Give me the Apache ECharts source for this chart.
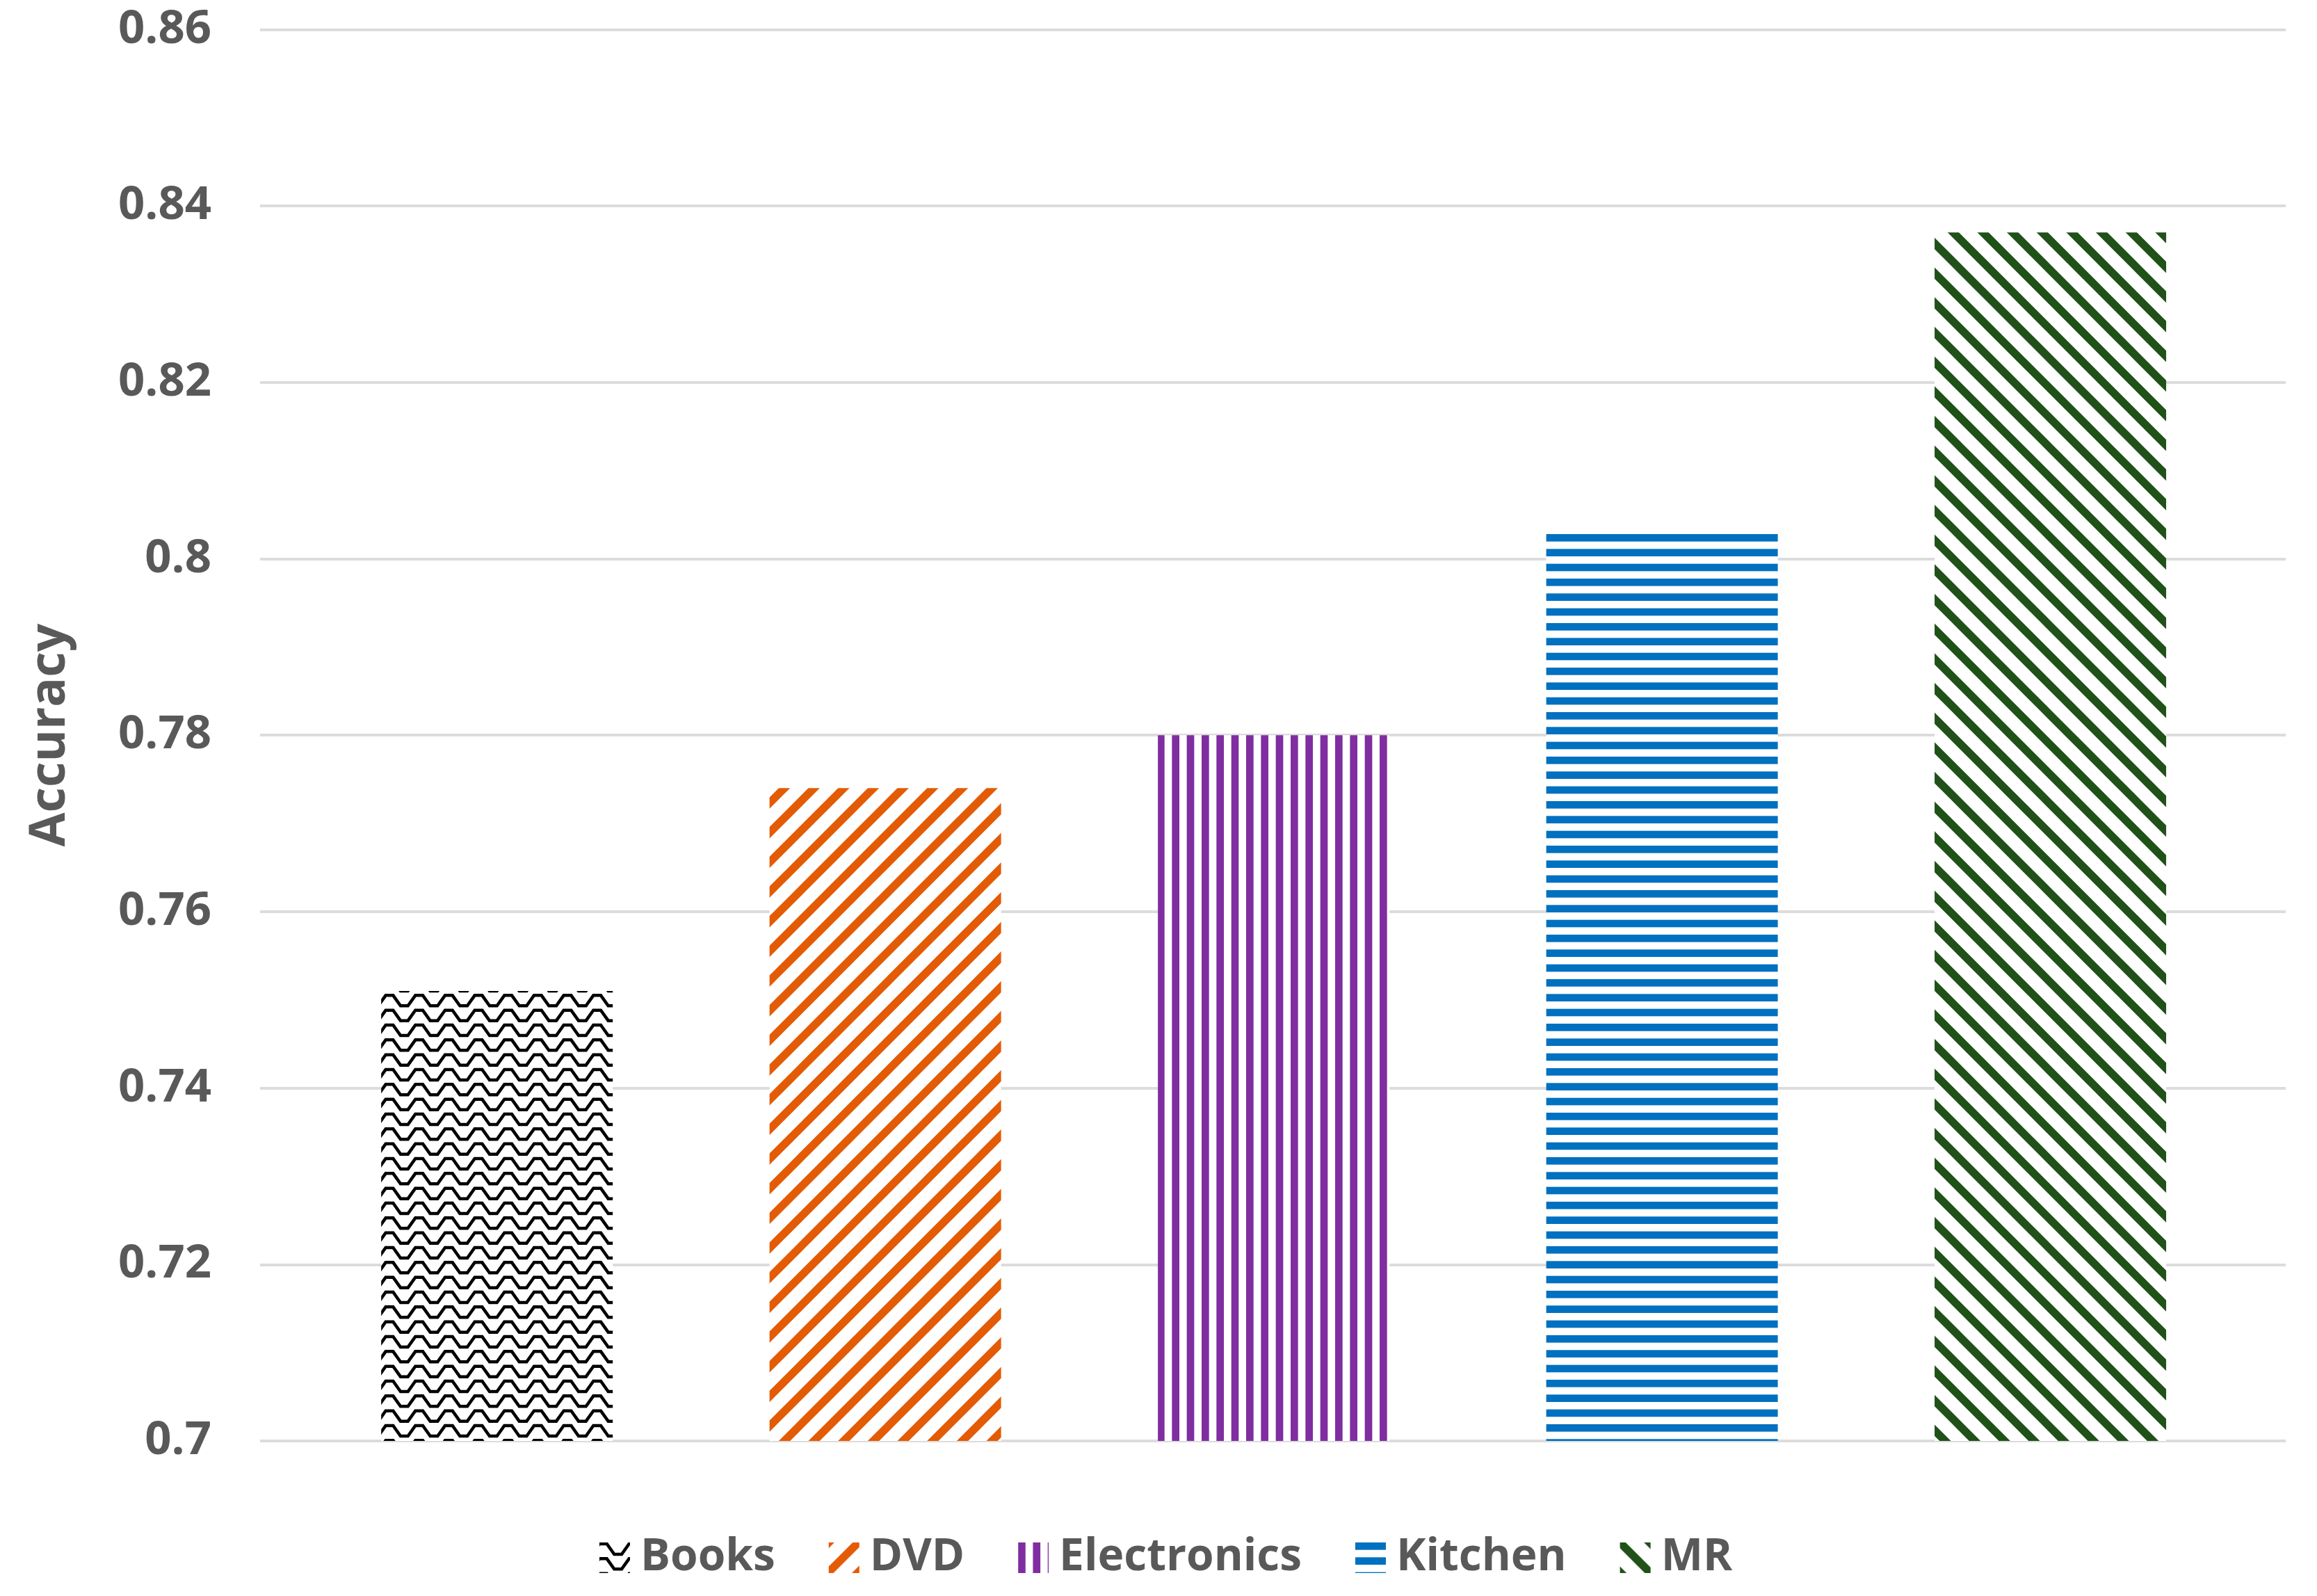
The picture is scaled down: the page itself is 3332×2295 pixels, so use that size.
<!DOCTYPE html>
<html>
<head>
<meta charset="utf-8">
<script src="https://cdn.jsdelivr.net/npm/echarts@6/dist/echarts.min.js"></script>
<style>
html,body{margin:0;padding:0;background:#fff;}
#chart{width:3332px;height:2295px;}
</style>
</head>
<body>
<div id="chart"></div>
<script>
// ---- data ----
const categories = ['Books', 'DVD', 'Electronics', 'Kitchen', 'MR'];
const accuracy = [0.751, 0.774, 0.780, 0.803, 0.837];
const yTickLabels = ['0.7', '0.72', '0.74', '0.76', '0.78', '0.8', '0.82', '0.84', '0.86'];
const yMin = 0.7, yMax = 0.86, yStep = 0.02;

// ---- patterns (styles) ----
const TILE = 128;
const P = TILE / 3;   // diagonal / wave period
const P2 = TILE / 6;  // stripe period
function makeTile(draw) {
  const c = document.createElement('canvas');
  c.width = TILE; c.height = TILE;
  const ctx = c.getContext('2d');
  ctx.fillStyle = '#ffffff';
  ctx.fillRect(0, 0, TILE, TILE);
  draw(ctx);
  return c;
}
const patterns = [
  makeTile(ctx => { // wave
    ctx.strokeStyle = '#000000';
    ctx.lineWidth = 4.5;
    ctx.lineJoin = 'miter';
    for (let r = -1; r <= 6; r++) {
      const y0 = r * P2 + 2;
      const amp = 15;
      ctx.beginPath();
      ctx.moveTo(-P, y0);
      for (let j = -1; j <= 3; j++) {
        const x = j * P;
        ctx.lineTo(x, y0);
        ctx.lineTo(x + 0.25 * P, y0);
        ctx.lineTo(x + 0.5 * P, y0 + amp);
        ctx.lineTo(x + 0.75 * P, y0 + amp);
        ctx.lineTo(x + P, y0);
      }
      ctx.stroke();
    }
  }),
  makeTile(ctx => { // upward diagonal
    ctx.strokeStyle = '#E35B04';
    ctx.lineWidth = 11.5;
    for (let k = -6; k <= 9; k++) {
      const x0 = k * P;
      ctx.beginPath();
      ctx.moveTo(x0 - TILE, 2 * TILE);
      ctx.lineTo(x0 + 2 * TILE, -TILE);
      ctx.stroke();
    }
  }),
  makeTile(ctx => { // vertical stripes
    ctx.fillStyle = '#7F2DA1';
    for (let k = 0; k < 6; k++) ctx.fillRect(k * P2, 0, P2 / 2, TILE);
  }),
  makeTile(ctx => { // horizontal stripes
    ctx.fillStyle = '#0070C0';
    for (let k = 0; k < 6; k++) ctx.fillRect(0, k * P2, TILE, P2 / 2);
  }),
  makeTile(ctx => { // downward diagonal
    ctx.strokeStyle = '#1F5118';
    ctx.lineWidth = 11.5;
    for (let k = -6; k <= 9; k++) {
      const x0 = k * P;
      ctx.beginPath();
      ctx.moveTo(x0 - TILE, -TILE);
      ctx.lineTo(x0 + 2 * TILE, 2 * TILE);
      ctx.stroke();
    }
  })
];

const FONT = '"Open Sans", "Noto Sans", sans-serif';
const TXT = '#595959';

const series = categories.map((name, i) => ({
  name: name,
  type: 'bar',
  barWidth: 333,
  barGap: '-100%',
  itemStyle: { color: { image: patterns[i], repeat: 'repeat' } },
  data: [[i, accuracy[i]]]
}));

const chart = echarts.init(document.getElementById('chart'), null, { renderer: 'canvas' });
chart.setOption({
  animation: false,
  backgroundColor: '#ffffff',
  grid: { left: 374, right: 45, top: 42.5, bottom: 223, containLabel: false },
  xAxis: {
    type: 'value',
    min: -0.61, max: 4.606,
    axisLine: { show: false }, axisTick: { show: false },
    axisLabel: { show: false }, splitLine: { show: false }
  },
  yAxis: {
    type: 'value',
    min: yMin, max: yMax, interval: yStep,
    name: 'Accuracy',
    nameLocation: 'middle',
    nameRotate: 90,
    nameGap: 266,
    nameTextStyle: { fontFamily: FONT, fontWeight: 'bold', fontSize: 71, color: TXT },
    axisLine: { show: false }, axisTick: { show: false },
    axisLabel: {
      margin: 70, fontFamily: FONT, fontWeight: 'bold', fontSize: 67, color: TXT,
      formatter: v => yTickLabels[Math.round((v - yMin) / yStep)]
    },
    splitLine: { show: true, lineStyle: { color: '#DCDCDC', width: 4 } }
  },
  legend: {
    left: 857, top: 2203,
    icon: 'rect',
    itemWidth: 44, itemHeight: 44,
    itemGap: 77,
    textStyle: { fontFamily: FONT, fontWeight: 'bold', fontSize: 64, color: TXT, padding: [0, 0, 0, 10] },
    data: categories
  },
  series: series
});
</script>
</body>
</html>
